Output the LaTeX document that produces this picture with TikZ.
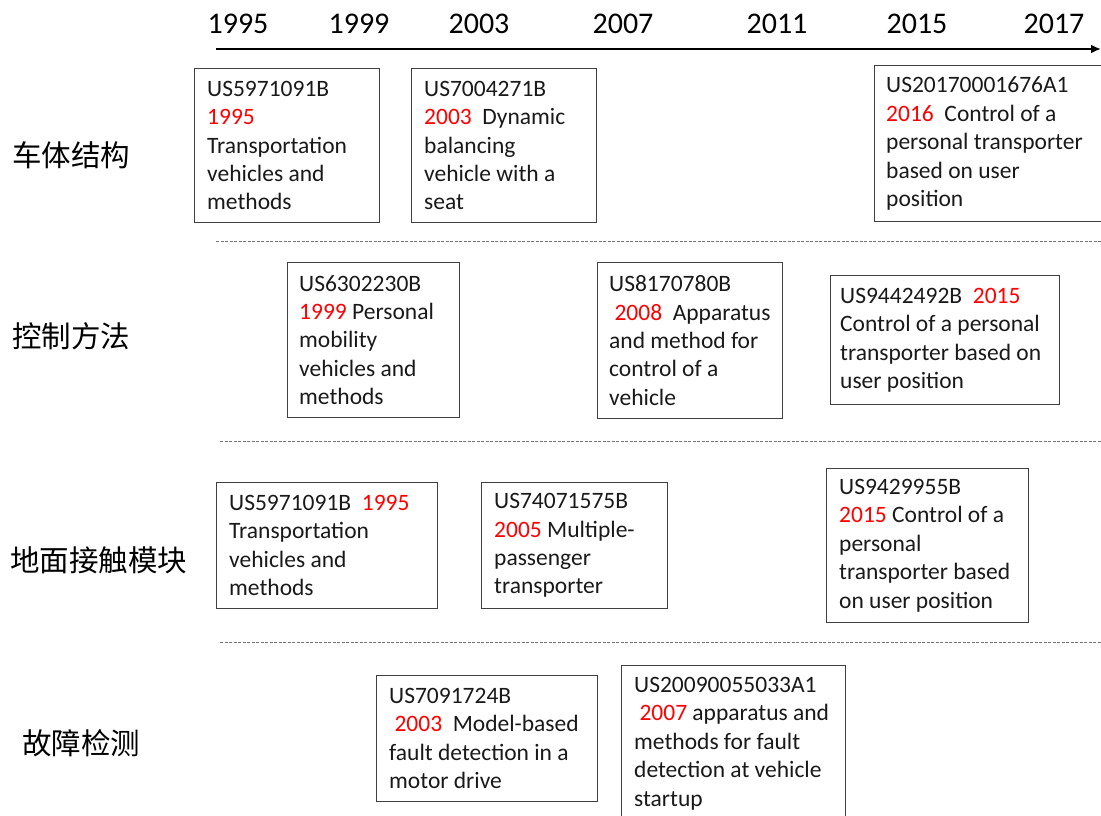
\documentclass[tikz,border=0pt]{standalone}
\usepackage{fontspec}
\setmainfont{Carlito}
\newfontfamily\cjk{Noto Sans CJK SC}
\usetikzlibrary{arrows.meta}
\newcommand\redyr[1]{\textcolor{red}{#1}}
\begin{document}
\begin{tikzpicture}[x=1pt,y=-1pt,
  pbox/.style={draw=black!75, line width=1.2pt, anchor=north west, inner sep=0pt},
  ptext/.style={anchor=west, align=left, inner sep=0pt, font=\fontsize{23.5}{28.4}\selectfont, text=black!90},
  year/.style={font=\fontsize{30}{36}\selectfont, inner sep=0pt, anchor=base},
  rowlab/.style={font=\cjk\fontsize{29.5}{34}\selectfont, anchor=west, inner sep=0pt},
  sep/.style={draw=black!55, line width=1pt, dash pattern=on 3pt off 1.5pt}]
\useasboundingbox (0,0) rectangle (1101,816);
\clip (0,0) rectangle (1101,816);

% timeline
\coordinate (axs) at (216,49);
\coordinate (axe) at (1101,49);
\draw[line width=2.6pt, -{Latex[length=10pt,width=9pt]}] (axs) -- (axe);
\node[year] (y1995) at (238,34) {1995};
\node[year] (y1999) at (359,34) {1999};
\node[year] (y2003) at (479,34) {2003};
\node[year] (y2007) at (623,34) {2007};
\node[year] (y2011) at (777,34) {2011};
\node[year] (y2015) at (917,34) {2015};
\node[year] (y2017) at (1054,34) {2017};

% row labels
\node[rowlab] (r1) at (12,155) {车体结构};
\node[rowlab] (r2) at (12,336) {控制方法};
\node[rowlab] (r3) at (10,560) {地面接触模块};
\node[rowlab] (r4) at (22,743) {故障检测};

% separators
\coordinate (s1a) at (216,241); \coordinate (s1b) at (1101,241);
\coordinate (s2a) at (220,441); \coordinate (s2b) at (1101,441);
\coordinate (s3a) at (220,642); \coordinate (s3b) at (1101,642);
\draw[sep] (s1a) -- (s1b);
\draw[sep] (s2a) -- (s2b);
\draw[sep] (s3a) -- (s3b);

% row 1
\node[pbox, minimum width=185pt, minimum height=154pt] (bA) at (194,68) {};
\node[ptext] (tA) at ([xshift=13pt]bA.west) {US5971091B\\\redyr{1995}\\Transportation\\vehicles and\\methods};
\node[pbox, minimum width=185pt, minimum height=154pt] (bB) at (411,68) {};
\node[ptext] (tB) at ([xshift=13pt]bB.west) {US7004271B\\\redyr{2003}\ \ Dynamic\\balancing\\vehicle with a\\seat};
\node[pbox, minimum width=240pt, minimum height=156pt] (bC) at (874,65) {};
\node[ptext] (tC) at ([xshift=12pt]bC.west) {US20170001676A1\\\redyr{2016}\ \ Control of a\\personal transporter\\based on user\\position};

% row 2
\node[pbox, minimum width=172pt, minimum height=155pt] (bD) at (287,262) {};
\node[ptext] (tD) at ([xshift=12pt]bD.west) {US6302230B\\\redyr{1999} Personal\\mobility\\vehicles and\\methods};
\node[pbox, minimum width=185pt, minimum height=156pt] (bE) at (597,262) {};
\node[ptext] (tE) at ([xshift=12pt]bE.west) {US8170780B\\\ \redyr{2008}\ \ Apparatus\\and method for\\control of a\\vehicle};
\node[pbox, minimum width=229pt, minimum height=129pt] (bF) at (830,275) {};
\node[ptext] (tF) at ([xshift=10pt]bF.west) {US9442492B\ \ \redyr{2015}\\Control of a personal\\transporter based on\\user position};

% row 3
\node[pbox, minimum width=221pt, minimum height=126pt] (bG) at (216,482) {};
\node[ptext] (tG) at ([xshift=13pt]bG.west) {US5971091B\ \ \redyr{1995}\\Transportation\\vehicles and\\methods};
\node[pbox, minimum width=186pt, minimum height=126pt] (bH) at (481,482) {};
\node[ptext] (tH) at ([xshift=13pt]bH.west) {US74071575B\\\redyr{2005} Multiple-\\passenger\\transporter};
\node[pbox, minimum width=202pt, minimum height=154pt] (bI) at (826,468) {};
\node[ptext] (tI) at ([xshift=13pt]bI.west) {US9429955B\\\redyr{2015} Control of a\\personal\\transporter based\\on user position};

% row 4
\node[pbox, minimum width=221pt, minimum height=126pt] (bJ) at (376,675) {};
\node[ptext] (tJ) at ([xshift=13pt]bJ.west) {US7091724B\\\ \redyr{2003}\ \ Model-based\\fault detection in a\\motor drive};
\node[pbox, minimum width=224pt, minimum height=156pt] (bK) at (621,665) {};
\node[ptext] (tK) at ([xshift=13pt]bK.west) {US20090055033A1\\\ \redyr{2007}\ apparatus and\\methods for fault\\detection at vehicle\\startup};
\end{tikzpicture}
\end{document}
